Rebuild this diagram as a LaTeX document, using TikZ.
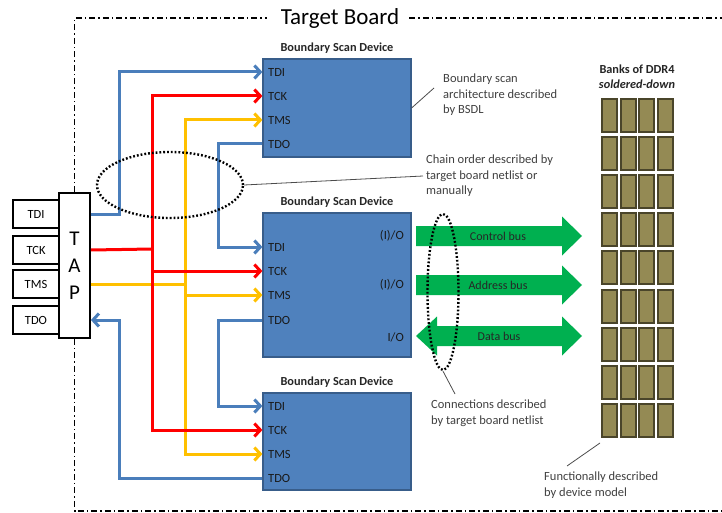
\documentclass[tikz,border=0pt]{standalone}
\usepackage{fontspec}
\setmainfont{Carlito}
\usetikzlibrary{arrows.meta,shapes.geometric}
\definecolor{devfill}{HTML}{4F81BD}
\definecolor{devedge}{HTML}{385D8A}
\definecolor{wblue}{HTML}{4A7EBB}
\definecolor{wred}{HTML}{FF0000}
\definecolor{wyel}{HTML}{FFC000}
\definecolor{bgreen}{HTML}{00B050}
\definecolor{cellfill}{HTML}{948A54}
\definecolor{celledge}{HTML}{4A452A}
\definecolor{anntext}{HTML}{404040}
\tikzset{
  border/.style={line width=1.4pt, dash pattern=on 6pt off 3pt on 1.5pt off 3pt},
  pinbox/.style={draw=black, line width=1.8pt, fill=white, minimum width=46pt, minimum height=28pt, inner sep=0pt, font=\fontsize{12.5}{14}\selectfont},
  tapbox/.style={draw=black, line width=1.8pt, fill=white, minimum width=31pt, minimum height=145pt, inner sep=0pt, align=center, font=\fontsize{21}{27}\selectfont},
  dev/.style={draw=devedge, line width=1.2pt, fill=devfill, inner sep=0pt},
  devtitle/.style={font=\bfseries\fontsize{12.3}{14}\selectfont, text=black!85},
  pin/.style={anchor=west, inner sep=0pt, font=\fontsize{12.5}{14}\selectfont, text=black!90},
  io/.style={anchor=east, inner sep=0pt, font=\fontsize{12.5}{14}\selectfont, text=black!90},
  wire/.style={line width=3pt},
  arr/.style={-{Straight Barb[length=6pt,width=13pt]}},
  dots/.style={draw=black, line width=2.4pt, dash pattern=on 1.8pt off 2pt, ellipse, inner sep=0pt},
  ann/.style={draw=black!70, line width=0.8pt},
  anntxt/.style={align=left, text=anntext, font=\fontsize{12.5}{15.5}\selectfont, inner sep=3pt},
  bus/.style={fill=bgreen},
  bustxt/.style={text=black!85, font=\fontsize{12}{14}\selectfont, inner sep=0pt},
  cell/.style={draw=celledge, line width=2pt, fill=cellfill}
}
\begin{document}
\begin{tikzpicture}[x=1pt,y=-1pt]
\useasboundingbox (0,0) rectangle (722,513);
\fill[white] (0,0) rectangle (722,513);

% TAP and its pins
\node[pinbox] (btdi) at (36,214) {TDI};
\node[pinbox] (btck) at (36,250) {TCK};
\node[pinbox] (btms) at (36,284) {TMS};
\node[pinbox] (btdo) at (36,320) {TDO};
\node[tapbox] (tap) at (74.5,265.5) {T\\A\\P};

% Target board border
\node[font=\fontsize{23}{26}\selectfont, inner sep=0pt] (board) at (340,18) {Target Board};
\draw[border] (tap.north) -- (74.5,18) -- ([xshift=-14pt]board.west |- 0,18);
\draw[border] ([xshift=10pt]board.east |- 0,18) -- (722,18);
\draw[border] (tap.south) -- (74.5,511) -- (722,511);

% Devices
\node[dev, minimum width=148pt, minimum height=98pt] (dev1) at (337,108) {};
\node[dev, minimum width=148pt, minimum height=144pt] (dev2) at (337,285) {};
\node[dev, minimum width=148pt, minimum height=97pt] (dev3) at (337,441.5) {};
\node[devtitle] (t1) at (337,48) {Boundary Scan Device};
\node[devtitle] (t2) at (337,202) {Boundary Scan Device};
\node[devtitle] (t3) at (337,382) {Boundary Scan Device};

\node[pin] (p1tdi) at (268,72) {TDI};
\node[pin] (p1tck) at (268,96) {TCK};
\node[pin] (p1tms) at (268,120) {TMS};
\node[pin] (p1tdo) at (268,144) {TDO};
\node[pin] (p2tdi) at (268,247) {TDI};
\node[pin] (p2tck) at (268,271) {TCK};
\node[pin] (p2tms) at (268,295) {TMS};
\node[pin] (p2tdo) at (268,320) {TDO};
\node[pin] (p3tdi) at (268,406) {TDI};
\node[pin] (p3tck) at (268,430) {TCK};
\node[pin] (p3tms) at (268,454) {TMS};
\node[pin] (p3tdo) at (268,478) {TDO};

\node[io] (io1) at (404,236) {(I)/O};
\node[io] (io2) at (404,285) {(I)/O};
\node[io] (io3) at (404,337) {I/O};

% Blue chain
\draw[wire, wblue, arr] (tap.east |- btdi) -- (119,214) |- (dev1.west |- p1tdi);
\draw[wire, wblue, arr] (dev1.west |- p1tdo) -- (218,144) |- (dev2.west |- p2tdi);
\draw[wire, wblue, arr] (dev2.west |- p2tdo) -- (218,320) |- (dev3.west |- p3tdi);
\draw[wire, wblue, arr] (dev3.west |- p3tdo) -- (119,478) |- (tap.east |- btdo);

% Yellow TMS
\draw[wire, wyel] (tap.east |- btms) -- (185,284);
\draw[wire, wyel, arr] (185,284) |- (dev1.west |- p1tms);
\draw[wire, wyel, arr] (185,284) |- (dev3.west |- p3tms);
\draw[wire, wyel, arr] (185,295) -- (dev2.west |- p2tms);

% Red TCK
\draw[wire, wred] (tap.east |- btck) -- (152,249);
\draw[wire, wred, arr] (152,249) |- (dev1.west |- p1tck);
\draw[wire, wred, arr] (152,249) |- (dev3.west |- p3tck);
\draw[wire, wred, arr] (152,271) -- (dev2.west |- p2tck);

% Buses
\fill[bus] (416,226) -- (562,226) -- (562,216.5) -- (582,236) -- (562,255.5) -- (562,246) -- (416,246) -- cycle;
\fill[bus] (416,275) -- (562,275) -- (562,265.5) -- (582,285) -- (562,304.5) -- (562,295) -- (416,295) -- cycle;
\fill[bus] (437,326) -- (562,326) -- (562,316.5) -- (582,336) -- (562,355.5) -- (562,346) -- (437,346) -- (437,355.5) -- (416,336) -- (437,316.5) -- cycle;
\node[bustxt] (cbus) at (498,236) {Control bus};
\node[bustxt] (abus) at (498,285) {Address bus};
\node[bustxt] (dbus) at (499,336) {Data bus};

% Dotted ellipses
\node[dots, minimum width=146pt, minimum height=66pt] (ell1) at (170,185) {};
\node[dots, minimum width=31pt, minimum height=156pt] (ell2) at (443,292) {};

% Annotations
\node[anntxt, anchor=west] (chain) at (423,176) {Chain order described by\\target board netlist or\\manually};
\draw[ann] (ell1.east) -- (chain.west);

\node[anntxt, anchor=west] (bsdl) at (440,95) {Boundary scan\\architecture described\\by BSDL};
\coordinate (bsdlend) at (434,88);
\draw[ann] (dev1.east) -- (bsdlend);

\node[anntxt, anchor=north west] (conn) at (428,397) {Connections described\\by target board netlist};
\coordinate (connend) at (455,394);
\draw[ann] (ell2.south) -- (connend);

\node[anntxt, anchor=north west] (func) at (541,469) {Functionally described\\by device model};
\coordinate (funcstart) at (600,443);
\coordinate (funcend) at (567,466);
\draw[ann] (funcstart) -- (funcend);

% DDR4 banks
\node[align=center, inner sep=0pt, text=black!85, font=\bfseries\fontsize{12.3}{15}\selectfont] (ddrtitle) at (637,76.5) {Banks of DDR4\\\textit{soldered-down}};
\foreach \c in {0,...,3} {
  \foreach \r in {0,...,8} {
    \draw[cell] (602+18.7*\c, 99+38.1*\r) rectangle ++(15,33);
  }
}
\end{tikzpicture}
\end{document}
